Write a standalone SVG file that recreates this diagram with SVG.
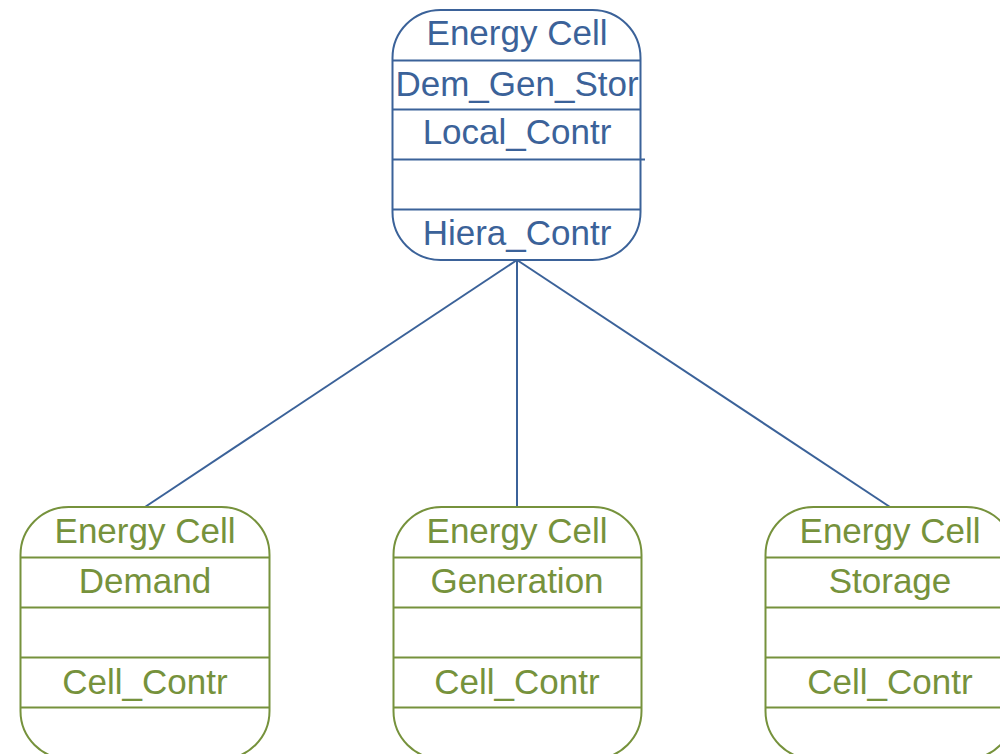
<svg xmlns="http://www.w3.org/2000/svg" width="1000" height="754" viewBox="0 0 1000 754">
  <style>
    .blue { stroke: #3b6299; fill: none; stroke-width: 2; }
    .green { stroke: #76923c; fill: none; stroke-width: 2; }
    text { font-family: "Liberation Sans", Arial, sans-serif; font-size: 35px; text-anchor: middle; }
    .tb { fill: #3b6299; }
    .tg { fill: #76923c; }
    .link { stroke: #3b6299; stroke-width: 2; fill: none; }
  </style>
  <rect width="1000" height="754" fill="#ffffff"/>

  <g id="connectors">
    <line class="link" x1="517" y1="260" x2="145" y2="507"/>
    <line class="link" x1="517" y1="260" x2="517" y2="507"/>
    <line class="link" x1="517" y1="260" x2="890" y2="507"/>
  </g>

  <g id="cell-hierarchy">
    <rect class="blue" x="392.5" y="10" width="248" height="250" rx="48" ry="48"/>
    <line class="blue" x1="392.5" y1="60.5" x2="640.5" y2="60.5"/>
    <line class="blue" x1="392.5" y1="109.5" x2="640.5" y2="109.5"/>
    <line class="blue" x1="392.5" y1="159.5" x2="645" y2="159.5"/>
    <line class="blue" x1="392.5" y1="209.5" x2="640.5" y2="209.5"/>
    <text class="tb" x="517" y="45">Energy Cell</text>
    <text class="tb" x="517" y="96">Dem_Gen_Stor</text>
    <text class="tb" x="517" y="144">Local_Contr</text>
    <text class="tb" x="517" y="245">Hiera_Contr</text>
  </g>

  <g id="cell-demand">
    <rect class="green" x="20.5" y="507" width="249" height="252" rx="48" ry="48"/>
    <line class="green" x1="20.5" y1="557.5" x2="269.5" y2="557.5"/>
    <line class="green" x1="20.5" y1="607.5" x2="269.5" y2="607.5"/>
    <line class="green" x1="20.5" y1="657.5" x2="269.5" y2="657.5"/>
    <line class="green" x1="20.5" y1="707.5" x2="269.5" y2="707.5"/>
    <text class="tg" x="145" y="543">Energy Cell</text>
    <text class="tg" x="145" y="593">Demand</text>
    <text class="tg" x="145" y="694">Cell_Contr</text>
  </g>

  <g id="cell-generation">
    <rect class="green" x="393.5" y="507" width="248" height="252" rx="48" ry="48"/>
    <line class="green" x1="393.5" y1="557.5" x2="641.5" y2="557.5"/>
    <line class="green" x1="393.5" y1="607.5" x2="641.5" y2="607.5"/>
    <line class="green" x1="393.5" y1="657.5" x2="641.5" y2="657.5"/>
    <line class="green" x1="393.5" y1="707.5" x2="641.5" y2="707.5"/>
    <text class="tg" x="517" y="543">Energy Cell</text>
    <text class="tg" x="517" y="593">Generation</text>
    <text class="tg" x="517" y="694">Cell_Contr</text>
  </g>

  <g id="cell-storage">
    <rect class="green" x="765.5" y="507" width="249" height="252" rx="48" ry="48"/>
    <line class="green" x1="765.5" y1="557.5" x2="1014" y2="557.5"/>
    <line class="green" x1="765.5" y1="607.5" x2="1014" y2="607.5"/>
    <line class="green" x1="765.5" y1="657.5" x2="1014" y2="657.5"/>
    <line class="green" x1="765.5" y1="707.5" x2="1014" y2="707.5"/>
    <text class="tg" x="890" y="543">Energy Cell</text>
    <text class="tg" x="890" y="593">Storage</text>
    <text class="tg" x="890" y="694">Cell_Contr</text>
  </g>
</svg>
